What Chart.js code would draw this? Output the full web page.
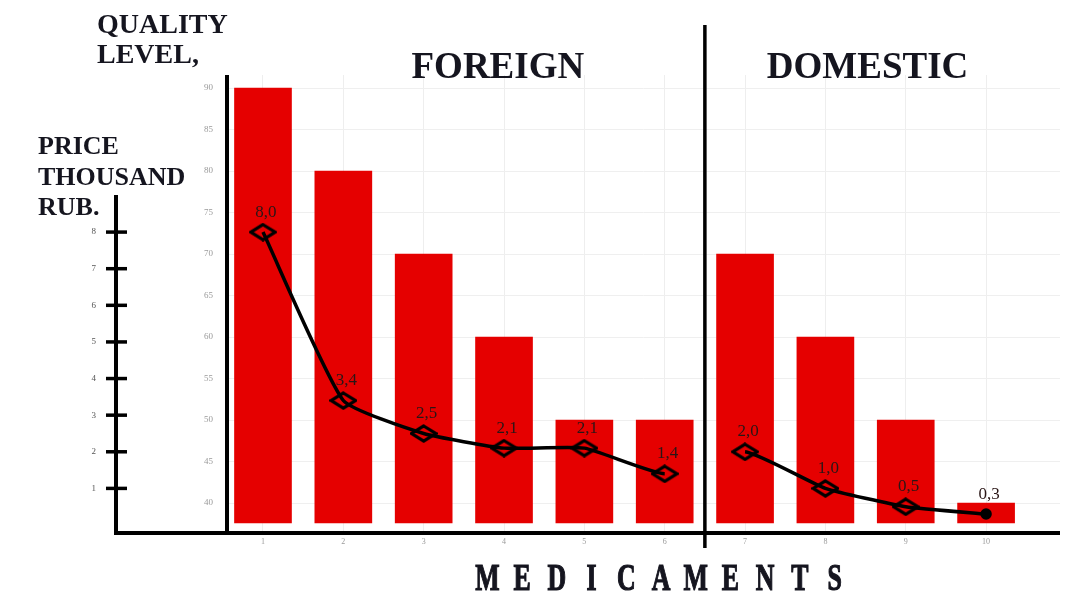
<!DOCTYPE html>
<html>
<head>
<meta charset="utf-8">
<script src="https://cdn.jsdelivr.net/npm/chart.js@4.4.1/dist/chart.umd.min.js"></script>
<style>
  html, body { margin: 0; padding: 0; background: #ffffff; }
  canvas { display: block; }
</style>
</head>
<body>
<canvas id="c" width="1080" height="593"></canvas>
<script>
// ---- data ----
const medicaments = [1, 2, 3, 4, 5, 6, 7, 8, 9, 10];
const qualityLevel = [90, 80, 70, 60, 50, 50, 70, 60, 50, 40];
const priceThousandRub = [8.0, 3.4, 2.5, 2.1, 2.1, 1.4, 2.0, 1.0, 0.5, 0.3];
const foreignCount = 6; // first 6 medicaments are foreign, rest domestic
const qualityTicks = [40, 45, 50, 55, 60, 65, 70, 75, 80, 85, 90];
const priceTicks = [1, 2, 3, 4, 5, 6, 7, 8];
const groupLabels = ['FOREIGN', 'DOMESTIC'];

const TEXT = '#15151f';
const SERIF = '"Liberation Serif", "DejaVu Serif", serif';

// diamond marker (wider than tall, hollow)
const diamond = document.createElement('canvas');
diamond.width = 28; diamond.height = 19;
(function () {
  const g = diamond.getContext('2d');
  g.strokeStyle = '#000'; g.lineWidth = 3.2; g.lineJoin = 'miter';
  g.beginPath();
  g.moveTo(14, 2); g.lineTo(26, 9.5); g.lineTo(14, 17); g.lineTo(2, 9.5); g.closePath();
  g.stroke();
})();

const decorations = {
  id: 'decorations',
  afterDraw(chart) {
    const ctx = chart.ctx;
    const area = chart.chartArea;
    const xS = chart.scales.x, pS = chart.scales.price;
    ctx.save();
    ctx.strokeStyle = '#000';
    ctx.lineCap = 'butt';
    // quality axis line
    ctx.lineWidth = 4;
    ctx.beginPath(); ctx.moveTo(area.left, area.top); ctx.lineTo(area.left, area.bottom + 2); ctx.stroke();
    // price axis line
    const px = pS.right;
    ctx.beginPath(); ctx.moveTo(px, area.top + 120); ctx.lineTo(px, area.bottom + 2); ctx.stroke();
    // baseline
    ctx.beginPath(); ctx.moveTo(px - 2, area.bottom); ctx.lineTo(area.right, area.bottom); ctx.stroke();
    // price tick crosses
    ctx.lineWidth = 3.5;
    priceTicks.forEach(v => {
      const y = pS.getPixelForValue(v);
      ctx.beginPath(); ctx.moveTo(px - 10, y); ctx.lineTo(px + 11, y); ctx.stroke();
    });
    // divider foreign/domestic
    const dx = xS.getPixelForValue(foreignCount + 0.5);
    ctx.lineWidth = 3.5;
    ctx.beginPath(); ctx.moveTo(dx, 25); ctx.lineTo(dx, area.bottom + 15); ctx.stroke();

    // texts
    ctx.fillStyle = TEXT;
    ctx.textAlign = 'left';
    ctx.textBaseline = 'alphabetic';
    ctx.font = 'bold 28px ' + SERIF;
    ctx.fillText('QUALITY', 97, 33);
    ctx.fillText('LEVEL,', 97, 63);
    ctx.font = 'bold 26px ' + SERIF;
    ctx.fillText('PRICE', 38, 154);
    ctx.fillText('THOUSAND', 38, 185);
    ctx.fillText('RUB.', 38, 215);

    ctx.textAlign = 'center';
    ctx.font = 'bold 37px ' + SERIF;
    const fx = (xS.getPixelForValue(1) + xS.getPixelForValue(foreignCount)) / 2 + 34;
    const dmx = (xS.getPixelForValue(foreignCount + 1) + xS.getPixelForValue(medicaments.length)) / 2 + 2;
    ctx.fillText(groupLabels[0], fx, 78);
    ctx.fillText(groupLabels[1], dmx, 78);

    // MEDICAMENTS, condensed and letter-spaced
    const word = 'MEDICAMENTS';
    const startX = 470, endX = 852;
    const pitch = (endX - startX) / word.length;
    ctx.font = 'bold 38px ' + SERIF;
    ctx.lineWidth = 1.2;
    ctx.strokeStyle = TEXT;
    for (let i = 0; i < word.length; i++) {
      ctx.save();
      ctx.translate(startX + pitch * (i + 0.5), 590);
      ctx.scale(0.68, 1);
      ctx.fillText(word[i], 0, 0);
      ctx.strokeText(word[i], 0, 0);
      ctx.restore();
    }
    ctx.restore();
  }
};

const valueLabels = {
  id: 'valueLabels',
  afterDatasetsDraw(chart) {
    const ctx = chart.ctx;
    const meta = chart.getDatasetMeta(0);
    ctx.save();
    ctx.font = '17px ' + SERIF;
    ctx.fillStyle = '#2a1616';
    ctx.textAlign = 'center';
    ctx.textBaseline = 'middle';
    meta.data.forEach((pt, i) => {
      const txt = priceThousandRub[i].toFixed(1).replace('.', ',');
      ctx.fillText(txt, pt.x + 3, pt.y - 20);
    });
    ctx.restore();
  }
};

new Chart(document.getElementById('c'), {
  data: {
    datasets: [
      {
        type: 'line',
        label: 'Price',
        yAxisID: 'price',
        data: medicaments.map((m, i) => ({ x: m, y: priceThousandRub[i] })),
        borderColor: '#000',
        borderWidth: 3.5,
        tension: 0.15,
        fill: false,
        pointStyle: c => c.dataIndex === medicaments.length - 1 ? 'circle' : diamond,
        pointRadius: c => c.dataIndex === medicaments.length - 1 ? 4 : 10,
        pointBackgroundColor: '#000',
        pointBorderColor: '#000',
        segment: {
          borderColor: c => c.p0DataIndex === foreignCount - 1 ? 'rgba(0,0,0,0)' : '#000'
        },
        order: 0
      },
      {
        type: 'bar',
        label: 'Quality',
        yAxisID: 'quality',
        data: medicaments.map((m, i) => ({ x: m, y: qualityLevel[i] })),
        backgroundColor: '#e50000',
        borderWidth: 0,
        barThickness: 57,
        base: 37.6,
        order: 1
      }
    ]
  },
  options: {
    responsive: false,
    animation: false,
    events: [],
    layout: { padding: { top: 75, right: 20, left: 0, bottom: 0 } },
    plugins: { legend: { display: false }, tooltip: { enabled: false }, title: { display: false } },
    scales: {
      x: {
        type: 'linear',
        offset: false,
        min: 0.552, max: 10.92,
        afterBuildTicks: s => { s.ticks = medicaments.map(v => ({ value: v })); },
        afterFit: s => { s.height = 60; },
        grid: { color: '#eeeeee', drawTicks: false, offset: false },
        border: { display: false },
        ticks: { color: '#9a9a9a', font: { size: 8, family: SERIF }, padding: 4 }
      },
      quality: {
        type: 'linear',
        position: 'left',
        weight: 0,
        min: 36.39, max: 91.57,
        afterBuildTicks: s => { s.ticks = qualityTicks.map(v => ({ value: v })); },
        afterFit: s => { s.width = 111; },
        grid: { color: '#efefef', drawTicks: false },
        border: { display: false },
        ticks: { color: '#9a9a9a', font: { size: 9, family: SERIF }, padding: 14 }
      },
      price: {
        type: 'linear',
        position: 'left',
        weight: 10,
        min: -0.218, max: 12.29,
        afterBuildTicks: s => { s.ticks = priceTicks.map(v => ({ value: v })); },
        afterFit: s => { s.width = 116; },
        grid: { display: false, drawTicks: false },
        border: { display: false },
        ticks: { color: '#555555', font: { size: 9, family: SERIF }, padding: 20 }
      }
    }
  },
  plugins: [decorations, valueLabels]
});
</script>
</body>
</html>
